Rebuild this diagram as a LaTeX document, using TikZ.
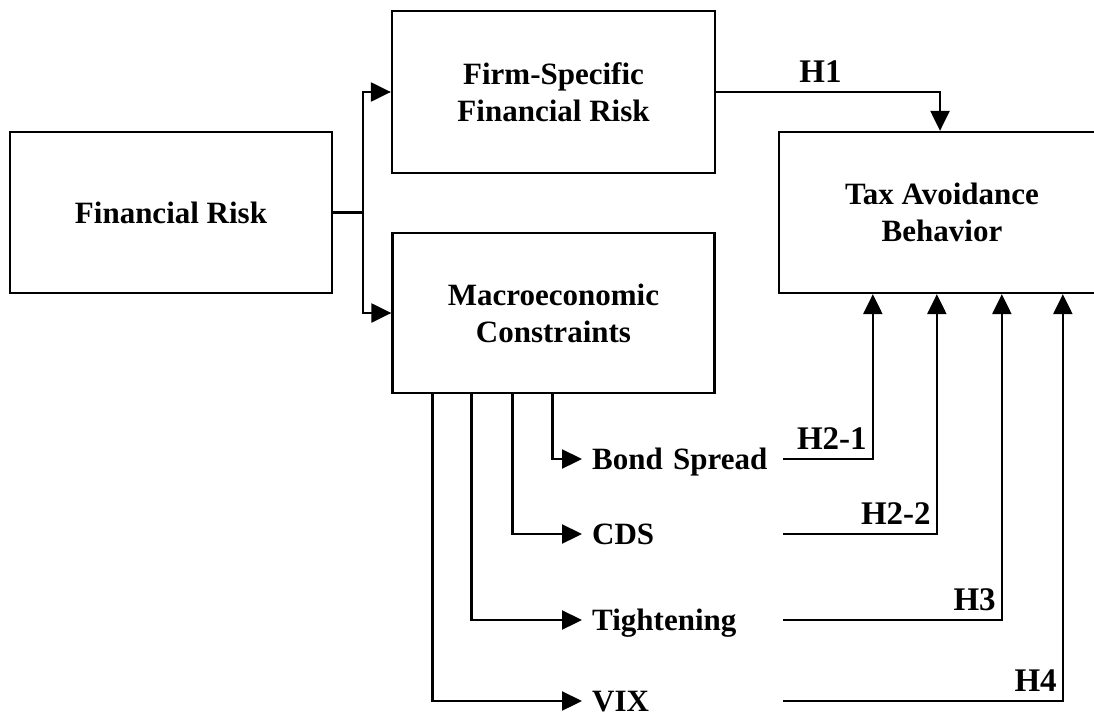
\documentclass[tikz,border=0pt]{standalone}
\usepackage{fontspec}
\setmainfont{Liberation Serif}
\usetikzlibrary{arrows.meta,calc}
\begin{document}
\begin{tikzpicture}[x=1pt,y=1pt,
  box/.style={draw, line width=2.3pt, inner sep=0pt, align=center,
    font=\fontsize{31}{37}\selectfont\bfseries},
  conn/.style={line width=2.3pt},
  arr/.style={conn, -{Triangle[length=20pt,width=19pt]}},
  item/.style={anchor=west, text width=181pt, inner xsep=10pt, inner ysep=0pt,
    text height=21pt, text depth=0pt, align=left,
    font=\fontsize{31}{37}\selectfont\bfseries},
  hlab/.style={font=\fontsize{33}{37}\selectfont\bfseries, inner xsep=5pt,
    inner ysep=8pt, anchor=south east},
  h1lab/.style={font=\fontsize{33}{37}\selectfont\bfseries, inner xsep=0pt,
    inner ysep=8pt, anchor=south}
]
\clip (0,0) rectangle (1094,-717);
\node[box, minimum width=322pt, minimum height=161pt] (fin) at (171,-212.5) {Financial Risk};
\node[box, minimum width=323pt, minimum height=162pt] (firm) at (553.5,-92) {Firm-Specific\\Financial Risk};
\node[box, minimum width=322pt, minimum height=160pt] (macro) at (553.5,-313) {Macroeconomic\\Constraints};
\node[box, minimum width=326pt, minimum height=161pt] (tax) at (942,-212.5) {Tax Avoidance\\Behavior};

\node[item] (bs) at (582,-459) {Bond Spread};
\node[item] (cds) at (582,-534) {CDS};
\node[item] (tig) at (582,-620) {Tightening};
\node[item] (vix) at (582,-701) {VIX};

\coordinate (split) at ([xshift=30pt]fin.east);
\coordinate (m1) at ([xshift=41pt]macro.south west);
\coordinate (m2) at ([xshift=80pt]macro.south west);
\coordinate (m3) at ([xshift=121pt]macro.south west);
\coordinate (m4) at ([xshift=161pt]macro.south west);
\coordinate (t1) at ([xshift=95pt]tax.south west);
\coordinate (t2) at ([xshift=159pt]tax.south west);
\coordinate (t3) at ([xshift=224pt]tax.south west);
\coordinate (t4) at ([xshift=285pt]tax.south west);
\coordinate (tn) at ([xshift=-2pt]tax.north);

\draw[conn] (fin.east) -- (split);
\draw[arr] (split) |- (firm.west);
\draw[arr] (split) |- (macro.west);

\draw[arr] (firm.east) -| node[h1lab, pos=0.233] {H1} (tn);

\draw[arr] (m4) |- (bs.west);
\draw[arr] (m3) |- (cds.west);
\draw[arr] (m2) |- (tig.west);
\draw[arr] (m1) |- (vix.west);

\draw[arr] (bs.east) -| node[hlab, pos=0.5] {H2-1} (t1);
\draw[arr] (cds.east) -| node[hlab, pos=0.5] {H2-2} (t2);
\draw[arr] (tig.east) -| node[hlab, pos=0.5] {H3} (t3);
\draw[arr] (vix.east) -| node[hlab, pos=0.5] {H4} (t4);
\end{tikzpicture}
\end{document}
